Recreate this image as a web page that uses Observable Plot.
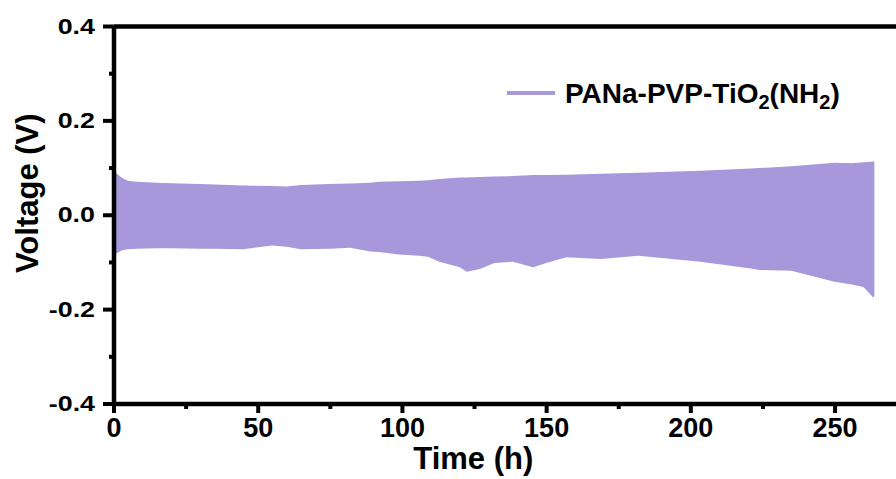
<!DOCTYPE html>
<html>
<head>
<meta charset="utf-8">
<script src="https://cdn.jsdelivr.net/npm/d3@7"></script>
<script src="https://cdn.jsdelivr.net/npm/@observablehq/plot@0.6"></script>
<style>
  html, body { margin: 0; padding: 0; background: #fff; }
  #chart { width: 896px; height: 479px; overflow: hidden; }
</style>
</head>
<body>
<div id="chart"></div>
<script>
// Time (h) and the upper / lower voltage envelope (V) of the cycling trace
const timeH = [0, 1, 3, 5, 8, 15, 20, 30, 35, 45, 55, 60, 65, 75, 82, 89, 92, 99, 106, 109, 113, 120, 122.5, 127, 132, 138.5, 145.5, 150, 157, 169, 182, 203.5, 221, 224, 235, 250, 256, 260, 263.5, 263.8];
const upperV = [0.099, 0.088, 0.078, 0.072, 0.070, 0.068, 0.067, 0.065, 0.064, 0.062, 0.061, 0.060, 0.063, 0.065, 0.066, 0.068, 0.070, 0.071, 0.072, 0.073, 0.076, 0.079, 0.079, 0.080, 0.081, 0.082, 0.084, 0.084, 0.085, 0.087, 0.089, 0.093, 0.098, 0.099, 0.103, 0.110, 0.109, 0.111, 0.113, 0.113];
const lowerV = [-0.092, -0.082, -0.075, -0.073, -0.072, -0.071, -0.071, -0.072, -0.072, -0.073, -0.065, -0.068, -0.073, -0.072, -0.070, -0.078, -0.079, -0.084, -0.087, -0.089, -0.0995, -0.111, -0.121, -0.115, -0.102, -0.0995, -0.111, -0.102, -0.090, -0.094, -0.087, -0.0995, -0.114, -0.117, -0.1185, -0.142, -0.148, -0.153, -0.176, -0.170];

const seriesName = "PANa-PVP-TiO₂(NH₂)";
const xMajorTicks = [0, 50, 100, 150, 200, 250];
const xMinorTicks = [25, 75, 125, 175, 225];
const yMajorTicks = [-0.4, -0.2, 0, 0.2, 0.4];
const yMinorTicks = [-0.3, -0.1, 0.1, 0.3];

const fillColor = "#a797db";
const fontFam = "'Liberation Sans', Arial, sans-serif";
const data = timeH.map((t, i) => ({t, hi: upperV[i], lo: lowerV[i]}));

const plot = Plot.plot({
  width: 896,
  height: 479,
  marginLeft: 113.5,
  marginRight: 0,
  marginTop: 26,
  marginBottom: 75.5,
  x: {domain: [0, 271.3]},
  y: {domain: [-0.4, 0.4]},
  style: {fontFamily: fontFam, fontWeight: "bold", color: "#000", background: "#fff"},
  marks: [
    Plot.areaY(data, {x: "t", y1: "lo", y2: "hi", fill: fillColor}),
    Plot.axisX({ticks: xMajorTicks, tickSize: 9.5, strokeWidth: 4, tickPadding: 4, fontSize: 27, tickFormat: d => String(d), label: null}),
    Plot.axisX({ticks: xMinorTicks, tickSize: 5.5, strokeWidth: 4, text: null, label: null}),
    Plot.axisY({ticks: yMajorTicks, tickSize: 10.5, strokeWidth: 4, tickPadding: 8.5, fontSize: 22, tickFormat: d => d.toFixed(1), label: null}),
    Plot.axisY({ticks: yMinorTicks, tickSize: 4.5, strokeWidth: 4, text: null, label: null}),
    Plot.ruleX([0], {strokeWidth: 4.5}),
    Plot.ruleY([-0.4, 0.4], {strokeWidth: 4.5}),
    Plot.text(["Time (h)"], {frameAnchor: "bottom", textAnchor: "middle", lineAnchor: "top", dx: -32, dy: 43, fontSize: 31, fontWeight: "bold"}),
    Plot.text(["Voltage (V)"], {frameAnchor: "left", textAnchor: "middle", lineAnchor: "middle", rotate: -90, dx: -85.5, dy: -22, fontSize: 31, fontWeight: "bold"})
  ]
});

// stretch y tick labels horizontally like the original (textLength keeps the anchor)
const ctx = document.createElement("canvas").getContext("2d");
ctx.font = "bold 22px 'Liberation Sans', Arial, sans-serif";
plot.querySelectorAll('g[aria-label="y-axis tick label"] text').forEach(t => {
  const w = ctx.measureText(t.textContent).width;
  t.setAttribute("textLength", (w * 1.22).toFixed(1));
  t.setAttribute("lengthAdjust", "spacingAndGlyphs");
});

// legend
const svg = d3.select(plot);
const lg = svg.append("g").attr("aria-label", "legend");
lg.append("line").attr("x1", 507).attr("x2", 555).attr("y1", 93).attr("y2", 93)
  .attr("stroke", fillColor).attr("stroke-width", 4);
const parts = seriesName.split(/([₂])/);
const txt = lg.append("text").attr("x", 565).attr("y", 103)
  .attr("text-anchor", "start")
  .attr("font-size", 28).attr("font-weight", "bold").attr("fill", "#000")
  .attr("font-family", fontFam);
let sub = false;
parts.forEach(p => {
  if (!p) return;
  if (p === "₂") {
    txt.append("tspan").attr("font-size", 20).attr("dy", 6).text("2");
    sub = true;
  } else {
    const ts = txt.append("tspan").attr("font-size", 28).text(p);
    if (sub) { ts.attr("dy", -6); sub = false; }
  }
});

document.getElementById("chart").appendChild(plot);
</script>
</body>
</html>
